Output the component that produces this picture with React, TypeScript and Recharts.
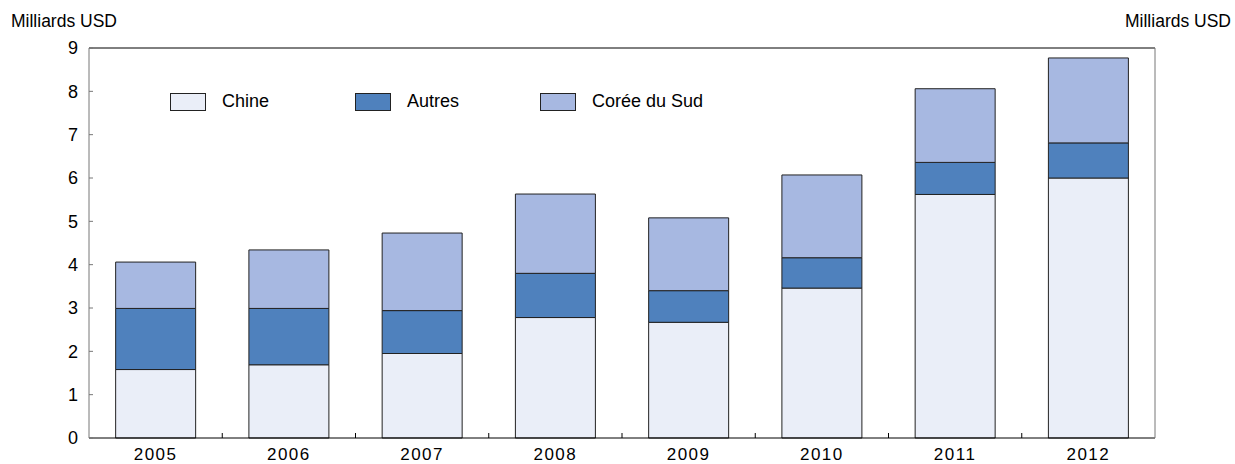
import React from 'react';
import { BarChart, Bar, XAxis, YAxis, ReferenceLine, Legend } from 'recharts';

const years = ['2005', '2006', '2007', '2008', '2009', '2010', '2011', '2012'];
const chine = [1.58, 1.69, 1.95, 2.78, 2.67, 3.46, 5.62, 6.0];
const autres = [1.41, 1.3, 0.99, 1.02, 0.73, 0.7, 0.74, 0.81];
const coreeDuSud = [1.07, 1.35, 1.79, 1.83, 1.68, 1.91, 1.7, 1.96];
const yTicks = [0, 1, 2, 3, 4, 5, 6, 7, 8, 9];

const series = [
  { key: 'chine', name: 'Chine', color: '#EAEEF8' },
  { key: 'autres', name: 'Autres', color: '#4F81BD' },
  { key: 'coree', name: 'Corée du Sud', color: '#A7B8E1' },
];

const data = years.map((year, i) => ({
  year,
  chine: chine[i],
  autres: autres[i],
  coree: coreeDuSud[i],
}));

const FONT = '"Liberation Sans", Arial, sans-serif';
const X_MARGIN = 10;
const Y_MARGIN = 11;

// category labels + small upward ticks on the boundaries between years
function XTick(props: any) {
  const { x, y, payload, index, width, visibleTicksCount } = props;
  const half = payload.offset ?? width / visibleTicksCount / 2;
  const axisY = y - X_MARGIN;
  return (
    <g>
      {index > 0 && (
        <line x1={x - half} x2={x - half} y1={axisY} y2={axisY - 5} stroke="#000" />
      )}
      <text x={x} y={y} dy="0.71em" textAnchor="middle" fill="#000"
        style={{ fontFamily: FONT, fontSize: 17, letterSpacing: 1.5 }}>
        {payload.value}
      </text>
    </g>
  );
}

// y ticks point into the plot on both sides
function YTick(props: any) {
  const { x, y, payload, side } = props;
  const left = side === 'left';
  const axisX = left ? x + Y_MARGIN : x - Y_MARGIN;
  return (
    <g>
      <line x1={axisX} x2={left ? axisX + 4 : axisX - 4} y1={y} y2={y} stroke="#777" />
      <text x={x} y={y} dy="0.355em" textAnchor={left ? 'end' : 'start'} fill="#000"
        style={{ fontFamily: FONT, fontSize: 18 }}>
        {payload.value}
      </text>
    </g>
  );
}

function LegendContent() {
  return (
    <div style={{ display: 'flex', fontFamily: FONT, fontSize: 18, color: '#000' }}>
      {series.map((s) => (
        <div key={s.key} style={{ width: 185, display: 'flex', alignItems: 'center' }}>
          <span style={{ display: 'inline-block', width: 34, height: 16, background: s.color, border: '1px solid #222' }} />
          <span style={{ marginLeft: 16 }}>{s.name}</span>
        </div>
      ))}
    </div>
  );
}

const unitStyle: React.CSSProperties = {
  position: 'absolute',
  top: 11,
  fontFamily: FONT,
  fontSize: 17.5,
  color: '#000',
  whiteSpace: 'nowrap',
};

export default function App() {
  return (
    <div style={{ position: 'absolute', left: 0, top: 0, width: 1235, height: 464, background: '#fff' }}>
      <div style={{ ...unitStyle, left: 11 }}>Milliards USD</div>
      <div style={{ ...unitStyle, right: 4 }}>Milliards USD</div>
      <BarChart width={1235} height={464} data={data} barCategoryGap="20%"
        margin={{ top: 48, right: 0, left: 0, bottom: 0 }}>
        <XAxis dataKey="year" height={26} tickSize={0} tickMargin={X_MARGIN}
          axisLine={{ stroke: '#000' }} tickLine={false} interval={0} tick={<XTick />} />
        <YAxis yAxisId="left" orientation="left" width={89} domain={[0, 9]} ticks={yTicks}
          tickSize={0} tickMargin={Y_MARGIN} tickLine={false} axisLine={{ stroke: '#777' }}
          tick={<YTick side="left" />} />
        <YAxis yAxisId="right" orientation="right" width={80} domain={[0, 9]} ticks={yTicks}
          tickSize={0} tickMargin={Y_MARGIN} tickLine={false} axisLine={{ stroke: '#777' }}
          tick={<YTick side="right" />} />
        <ReferenceLine yAxisId="left" y={9} stroke="#000" />
        <Legend verticalAlign="middle" align="center" content={<LegendContent />}
          wrapperStyle={{ top: 91, left: 170, width: 'auto' }} />
        {series.map((s) => (
          <Bar key={s.key} yAxisId="left" dataKey={s.key} name={s.name} stackId="a"
            fill={s.color} stroke="#222" strokeWidth={1} isAnimationActive={false} />
        ))}
      </BarChart>
    </div>
  );
}
